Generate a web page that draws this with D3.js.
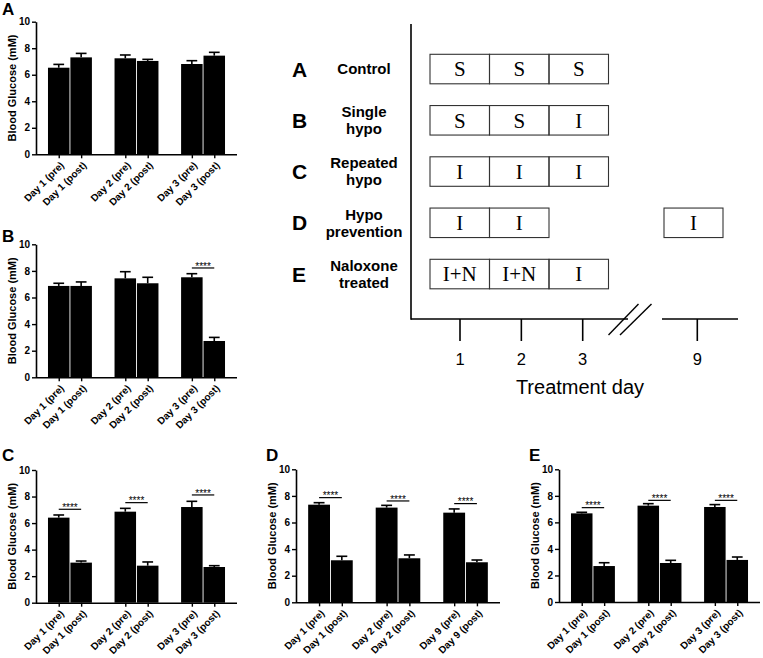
<!DOCTYPE html>
<html><head><meta charset="utf-8">
<script src="https://cdn.jsdelivr.net/npm/d3@7"></script>
<style>body{margin:0;background:#fff} svg{display:block}</style>
</head><body>
<svg id="fig" width="763" height="658"></svg>
<script>
// ---------------- data ----------------
const phases = ["pre", "post"];
const days123 = ["Day 1", "Day 2", "Day 3"];
const days129 = ["Day 1", "Day 2", "Day 9"];
const yTicks = [0, 2, 4, 6, 8, 10];

const meanA = [6.53, 7.31, 7.24, 7.04, 6.81, 7.44];
const errA  = [0.25, 0.30, 0.25, 0.12, 0.25, 0.25];
const meanB = [6.87, 6.87, 7.44, 7.07, 7.52, 2.73];
const errB  = [0.20, 0.30, 0.50, 0.45, 0.27, 0.27];
const meanC = [6.41, 3.02, 6.86, 2.79, 7.21, 2.69];
const errC  = [0.20, 0.12, 0.25, 0.28, 0.43, 0.10];
const meanD = [7.34, 3.16, 7.12, 3.31, 6.74, 3.01];
const errD  = [0.15, 0.30, 0.17, 0.25, 0.28, 0.17];
const meanE = [6.68, 2.71, 7.26, 2.94, 7.16, 3.17];
const errE  = [0.08, 0.25, 0.15, 0.20, 0.18, 0.22];

// significance bracket heights per day group (null = none)
const sigA = [null, null, null];
const sigB = [null, null, 8.22];
const sigC = [7.04, 7.54, 8.12];
const sigD = [7.87, 7.62, 7.42];
const sigE = [7.11, 7.66, 7.66];
const sigLabel = "****";
const yLabel = "Blood Glucose (mM)";

// schematic
const rowLetters = ["A", "B", "C", "D", "E"];
const rowNames = [["Control"], ["Single", "hypo"], ["Repeated", "hypo"], ["Hypo", "prevention"], ["Naloxone", "treated"]];
const rowDays = [[1, 2, 3], [1, 2, 3], [1, 2, 3], [1, 2, 9], [1, 2, 3]];
const rowTreat = [["S", "S", "S"], ["S", "S", "I"], ["I", "I", "I"], ["I", "I", "I"], ["I+N", "I+N", "I"]];
const dayTicks = [1, 2, 3, 9];
const dayAxisTitle = "Treatment day";

// ---------------- drawing ----------------
const svg = d3.select("#fig");
const SANS = "'Liberation Sans', Arial, sans-serif";
const SERIF = "'Liberation Serif', 'Times New Roman', serif";

function barPanel(o) {
  const g = svg.append("g");
  const y = d3.scaleLinear().domain([0, 10]).range([o.y0, o.y10]);
  const gx = d3.scaleBand().domain(o.days).range([o.x0, o.x1]).paddingInner(0.34).paddingOuter(0.18);
  const px = d3.scaleBand().domain(phases).range([0, gx.bandwidth()]).paddingInner(0.04);
  const data = [];
  o.days.forEach(d => phases.forEach(p => data.push({ day: d, phase: p })));
  data.forEach((d, i) => {
    d.label = `${d.day} (${d.phase})`;
    d.m = o.mean[i]; d.e = o.err[i];
    d.x = gx(d.day) + px(d.phase);
    d.cx = d.x + px.bandwidth() / 2;
  });
  const bw = px.bandwidth();

  // error bars (upper)
  g.selectAll("line.stem").data(data).join("line")
    .attr("x1", d => d.cx).attr("x2", d => d.cx)
    .attr("y1", d => y(d.m)).attr("y2", d => y(d.m + d.e))
    .attr("stroke", "#000").attr("stroke-width", 1.6);
  g.selectAll("line.cap").data(data).join("line")
    .attr("x1", d => d.cx - bw / 4).attr("x2", d => d.cx + bw / 4)
    .attr("y1", d => y(d.m + d.e)).attr("y2", d => y(d.m + d.e))
    .attr("stroke", "#000").attr("stroke-width", 1.6);
  // bars
  g.selectAll("rect.bar").data(data).join("rect")
    .attr("x", d => d.x).attr("y", d => y(d.m))
    .attr("width", bw).attr("height", d => y(0) - y(d.m))
    .attr("fill", "#000");

  // significance
  const sig = o.days.map((d, i) => ({ day: d, h: o.sig[i] })).filter(s => s.h != null);
  sig.forEach(s => {
    const xa = gx(s.day) + px("pre") + bw / 2, xb = gx(s.day) + px("post") + bw / 2;
    g.append("line").attr("x1", xa).attr("x2", xb).attr("y1", y(s.h)).attr("y2", y(s.h))
      .attr("stroke", "#000").attr("stroke-width", 1.2);
    g.append("text").attr("x", (xa + xb) / 2).attr("y", y(s.h) + 1.6)
      .attr("text-anchor", "middle").attr("font-family", SANS).attr("font-size", 10)
      .attr("fill", "#000").text(sigLabel);
  });

  // y axis
  const ya = g.append("g").attr("transform", `translate(${o.x0},0)`)
    .call(d3.axisLeft(y).tickValues(yTicks).tickSize(4).tickSizeOuter(0).tickPadding(2));
  ya.select(".domain").attr("stroke-width", 1.6);
  ya.selectAll(".tick line").attr("stroke-width", 1.4);
  ya.selectAll("text").attr("font-family", SANS).attr("font-size", 10).attr("font-weight", "bold").attr("fill", "#000");

  // x axis
  const xo = d3.scaleOrdinal().domain(data.map(d => d.label)).range(data.map(d => d.cx));
  const xa = g.append("g").attr("transform", `translate(0,${o.y0})`)
    .call(d3.axisBottom(xo).tickSize(4).tickSizeOuter(0));
  xa.select(".domain").remove();
  xa.selectAll(".tick line").attr("stroke-width", 1.4);
  xa.selectAll("text").attr("font-family", SANS).attr("font-size", 10).attr("font-weight", "bold").attr("fill", "#000")
    .attr("text-anchor", "end").attr("x", 0).attr("y", 0).attr("dy", "0.35em").attr("dx", 0)
    .attr("transform", "translate(3,9) rotate(-45)");
  g.append("line").attr("x1", o.x0).attr("x2", o.x1).attr("y1", o.y0 + 0.5).attr("y2", o.y0 + 0.5)
    .attr("stroke", "#000").attr("stroke-width", 1.6);

  // y label
  g.append("text").attr("transform", `translate(${o.x0 - 24},${(o.y0 + o.y10) / 2}) rotate(-90)`)
    .attr("text-anchor", "middle").attr("dy", "0.35em")
    .attr("font-family", SANS).attr("font-size", 11).attr("font-weight", "bold").text(yLabel);

  // panel letter
  svg.append("text").attr("x", o.lx).attr("y", o.ly)
    .attr("font-family", SANS).attr("font-size", 17).attr("font-weight", "bold").text(o.letter);
}

barPanel({ letter: "A", lx: 2, ly: 15, x0: 36, x1: 237, y0: 154.3, y10: 21.7, days: days123, mean: meanA, err: errA, sig: sigA });
barPanel({ letter: "B", lx: 2, ly: 241.5, x0: 36, x1: 237, y0: 377.3, y10: 244.3, days: days123, mean: meanB, err: errB, sig: sigB });
barPanel({ letter: "C", lx: 2, ly: 461, x0: 36, x1: 237, y0: 602.7, y10: 470, days: days123, mean: meanC, err: errC, sig: sigC });
barPanel({ letter: "D", lx: 266, ly: 461, x0: 296, x1: 500, y0: 602.3, y10: 469.3, days: days129, mean: meanD, err: errD, sig: sigD });
barPanel({ letter: "E", lx: 529, ly: 461, x0: 559, x1: 760, y0: 602, y10: 469.3, days: days123, mean: meanE, err: errE, sig: sigE });

// ---------------- schematic ----------------
const sg = svg.append("g");
const rowY = d3.scaleBand().domain(rowLetters).range([54.3, 288.8]).paddingInner(0.4244).paddingOuter(0);
const cellX = d3.scaleLinear().domain([0.5, 3.5, 8.5, 9.5]).range([430, 608.5, 664, 723]);
const dayX = d3.scaleLinear().domain([1, 3, 9]).range([460, 582.7, 697.3]);
const axY = 319, axX = 411;

// axes
sg.append("line").attr("x1", axX).attr("x2", axX).attr("y1", 24).attr("y2", axY + 0.75).attr("stroke", "#000").attr("stroke-width", 1.6);
sg.append("line").attr("x1", axX).attr("x2", 628).attr("y1", axY).attr("y2", axY).attr("stroke", "#000").attr("stroke-width", 1.6);
sg.append("line").attr("x1", 662).attr("x2", 738).attr("y1", axY).attr("y2", axY).attr("stroke", "#000").attr("stroke-width", 1.6);
sg.append("line").attr("x1", 608.5).attr("y1", 335).attr("x2", 638.5).attr("y2", 304).attr("stroke", "#000").attr("stroke-width", 1.4);
sg.append("line").attr("x1", 620).attr("y1", 335).attr("x2", 651.5).attr("y2", 304).attr("stroke", "#000").attr("stroke-width", 1.4);

sg.selectAll("line.dtick").data(dayTicks).join("line")
  .attr("x1", d => dayX(d)).attr("x2", d => dayX(d)).attr("y1", axY).attr("y2", 341)
  .attr("stroke", "#000").attr("stroke-width", 1.6);
sg.selectAll("text.dlab").data(dayTicks).join("text")
  .attr("x", d => dayX(d)).attr("y", 365).attr("text-anchor", "middle")
  .attr("font-family", SANS).attr("font-size", 16.5).attr("fill", "#000").text(d => d);
sg.append("text").attr("x", 580).attr("y", 393.5).attr("text-anchor", "middle")
  .attr("font-family", SANS).attr("font-size", 20).attr("fill", "#000").text(dayAxisTitle);

// rows
rowLetters.forEach((L, r) => {
  const top = rowY(L), h = rowY.bandwidth(), cy = top + h / 2;
  sg.append("text").attr("x", 292).attr("y", cy).attr("dy", "0.36em")
    .attr("font-family", SANS).attr("font-size", 21).attr("font-weight", "bold").text(L);
  const lines = rowNames[r];
  lines.forEach((t, k) => {
    sg.append("text").attr("x", 364).attr("y", cy + (k - (lines.length - 1) / 2) * 17).attr("dy", "0.36em")
      .attr("text-anchor", "middle").attr("font-family", SANS).attr("font-size", 15).attr("font-weight", "bold").text(t);
  });
  const cells = rowDays[r].map((d, i) => ({ d, t: rowTreat[r][i] }));
  sg.selectAll(`rect.c${r}`).data(cells).join("rect")
    .attr("x", c => cellX(c.d - 0.5)).attr("y", top)
    .attr("width", c => cellX(c.d + 0.5) - cellX(c.d - 0.5)).attr("height", h)
    .attr("fill", "none").attr("stroke", "#333").attr("stroke-width", 1.1);
  sg.selectAll(`text.c${r}`).data(cells).join("text")
    .attr("x", c => (cellX(c.d - 0.5) + cellX(c.d + 0.5)) / 2).attr("y", cy).attr("dy", "0.35em")
    .attr("text-anchor", "middle").attr("font-family", SERIF).attr("font-size", 21).attr("fill", "#000").text(c => c.t);
});
</script>
</body></html>
